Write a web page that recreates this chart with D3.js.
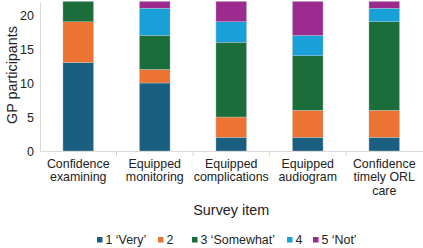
<!DOCTYPE html>
<html>
<head>
<meta charset="utf-8">
<script src="https://cdn.jsdelivr.net/npm/d3@7"></script>
<style>
  body { margin: 0; background: #fff; }
  svg { display: block; font-family: "Liberation Sans", Arial, sans-serif; }
</style>
</head>
<body>
<div id="chart"></div>
<script>
const WIDTH = 423, HEIGHT = 248;

const categories = ["Confidence examining", "Equipped monitoring", "Equipped complications", "Equipped audiogram", "Confidence timely ORL care"];
const categoryLines = [["Confidence", "examining"], ["Equipped", "monitoring"], ["Equipped", "complications"], ["Equipped", "audiogram"], ["Confidence", "timely ORL", "care"]];
const seriesNames = ["1 \u2018Very\u2019", "2", "3 \u2018Somewhat\u2019", "4", "5 \u2018Not\u2019"];
const very     = [13, 10, 2, 2, 2];
const two      = [6, 2, 3, 4, 4];
const somewhat = [3, 5, 11, 8, 13];
const four     = [0, 4, 3, 3, 2];
const not      = [0, 1, 3, 5, 1];
const yTicks = [0, 5, 10, 15, 20];

const COLORS = ["#1b5f80", "#ec7433", "#1b6d39", "#1aa0d9", "#9d2b8f"];
const seriesValues = [very, two, somewhat, four, not];

const rows = categories.map((c, i) => {
    const r = { cat: c };
    seriesNames.forEach((s, j) => r[s] = seriesValues[j][i]);
    return r;
});

const MARGIN = { left: 40, right: 0.5, top: 1.4, bottom: 97 };
const INNER_WIDTH = WIDTH - MARGIN.left - MARGIN.right;
const INNER_HEIGHT = 151 - MARGIN.top;

const svg = d3.select("#chart")
    .append("svg")
    .attr("width", WIDTH)
    .attr("height", HEIGHT)
    .append("g")
    .attr("transform", `translate(${MARGIN.left},${MARGIN.top})`);

const x = d3.scaleBand()
    .domain(categories)
    .range([0, INNER_WIDTH])
    .paddingInner(0.6)
    .paddingOuter(0.3);

const y = d3.scaleLinear()
    .domain([0, 22])
    .range([INNER_HEIGHT, 0]);

const stack = d3.stack().keys(seriesNames)(rows);

// Bars
svg.selectAll("g.layer")
    .data(stack)
    .join("g")
    .attr("class", "layer")
    .attr("fill", (d, i) => COLORS[i])
    .selectAll("rect")
    .data(d => d.filter(p => p[1] > p[0]))
    .join("rect")
    .attr("x", d => x(d.data.cat))
    .attr("y", d => y(d[1]))
    .attr("width", x.bandwidth())
    .attr("height", d => y(d[0]) - y(d[1]))
    .attr("stroke", "#b9c9d3")
    .attr("stroke-width", 0.4);

// Y axis
const yAxis = svg.append("g")
    .call(d3.axisLeft(y).tickValues(yTicks).tickSize(0).tickPadding(6));
yAxis.select(".domain").attr("stroke", "#d9d9d9");
yAxis.selectAll("text").style("font-size", "12.5px").attr("fill", "#222");

// X axis
const xAxis = svg.append("g")
    .attr("transform", `translate(0,${INNER_HEIGHT})`)
    .call(d3.axisBottom(x).tickSize(0).tickFormat(""));
xAxis.select(".domain").attr("stroke", "#d9d9d9");

// Category boundary ticks
xAxis.selectAll("line.sep")
    .data(categories.slice(1))
    .join("line")
    .attr("class", "sep")
    .attr("x1", d => x(d) - x.step() * x.paddingInner() / 2)
    .attr("x2", d => x(d) - x.step() * x.paddingInner() / 2)
    .attr("y1", 0)
    .attr("y2", 5)
    .attr("stroke", "#d9d9d9");

// Category labels
const labels = svg.append("g")
    .selectAll("text")
    .data(categories)
    .join("text")
    .attr("x", d => x(d) + x.bandwidth() / 2)
    .attr("y", INNER_HEIGHT + 17)
    .attr("text-anchor", "middle")
    .style("font-size", "12.4px")
    .attr("fill", "#222");
labels.selectAll("tspan")
    .data((d, i) => categoryLines[i])
    .join("tspan")
    .attr("x", function() { return this.parentNode.getAttribute("x"); })
    .attr("dy", (d, i) => i === 0 ? 0 : 13.5)
    .text(d => d);

// Axis titles
svg.append("text")
    .attr("x", INNER_WIDTH / 2)
    .attr("y", 215 - MARGIN.top)
    .attr("text-anchor", "middle")
    .style("font-size", "14.4px")
    .attr("fill", "#222")
    .text("Survey item");

svg.append("text")
    .attr("transform", `translate(${17 - MARGIN.left},${75 - MARGIN.top}) rotate(-90)`)
    .attr("text-anchor", "middle")
    .style("font-size", "14.4px")
    .attr("fill", "#222")
    .text("GP participants");

// Legend
const legendX = [97, 158, 192, 287, 313];
const legend = svg.append("g")
    .attr("transform", `translate(${-MARGIN.left},${239.5 - MARGIN.top})`);
const items = legend.selectAll("g")
    .data(seriesNames)
    .join("g")
    .attr("transform", (d, i) => `translate(${legendX[i]},0)`);
items.append("rect")
    .attr("x", 0)
    .attr("y", -2.5)
    .attr("width", 5.5)
    .attr("height", 5.5)
    .attr("fill", (d, i) => COLORS[i]);
items.append("text")
    .attr("x", 8.5)
    .attr("y", 4.5)
    .style("font-size", "12.4px")
    .attr("fill", "#222")
    .text(d => d);
</script>
</body>
</html>
